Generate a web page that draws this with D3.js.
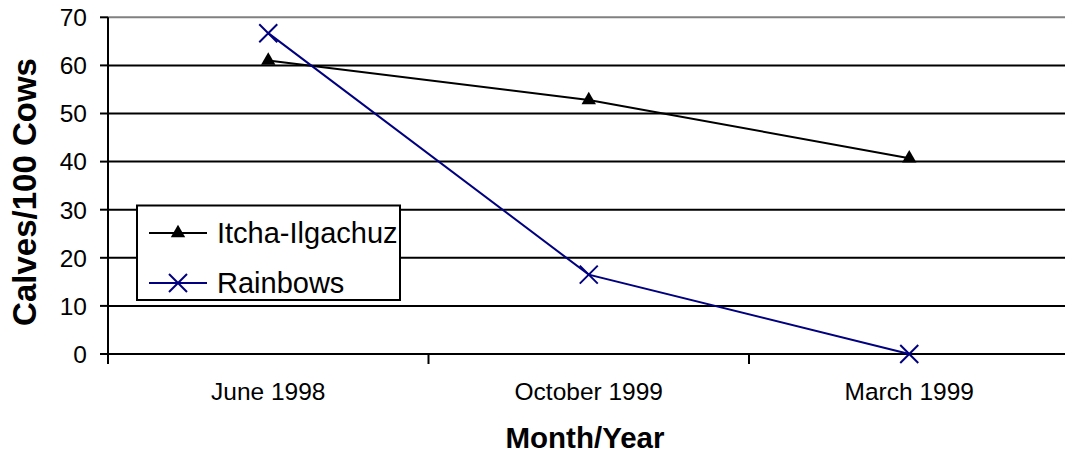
<!DOCTYPE html>
<meta charset="utf-8">
<style>
body { margin: 0; background: #fff; }
svg { font-family: Arial, "Liberation Sans", sans-serif; display: block; }
.grid line { stroke: #000; stroke-width: 2; }
.tick-label { font-size: 24.5px; fill: #000; }
.title { font-weight: bold; fill: #000; }
</style>
<body>
<div id="chart"></div>
<script src="https://cdn.jsdelivr.net/npm/d3@7"></script>
<script>

var months = ["June 1998", "October 1999", "March 1999"];
var itcha = [61, 52.8, 40.7];
var rainbows = [66.7, 16.5, 0];
var yTicks = [0, 10, 20, 30, 40, 50, 60, 70];

var width = 1065,
    height = 461;

var x = d3.scaleBand()
    .domain(months)
    .range([108, 1069.5]);

var y = d3.scaleLinear()
    .domain([0, 70])
    .range([354, 17.3]);

var svg = d3.select("#chart").append("svg")
    .attr("width", width)
    .attr("height", height);

// gridlines
svg.append("g").attr("class", "grid")
  .selectAll("line")
    .data(yTicks.filter(function(d) { return d > 0; }))
  .enter().append("line")
    .attr("x1", 108)
    .attr("x2", width)
    .attr("y1", function(d) { return y(d); })
    .attr("y2", function(d) { return y(d); })
    .style("stroke", function(d) { return d === 70 ? "#808080" : "#000"; });

// y axis
svg.append("line")
    .attr("x1", 108).attr("x2", 108)
    .attr("y1", y(70)).attr("y2", y(0) + 10)
    .style("stroke", "#000").style("stroke-width", 2);

svg.append("g").selectAll("line")
    .data(yTicks)
  .enter().append("line")
    .attr("x1", 100).attr("x2", 108)
    .attr("y1", function(d) { return y(d); })
    .attr("y2", function(d) { return y(d); })
    .style("stroke", "#000").style("stroke-width", 2);

svg.append("g").selectAll("text")
    .data(yTicks)
  .enter().append("text")
    .attr("class", "tick-label")
    .attr("x", 87)
    .attr("y", function(d) { return y(d); })
    .attr("dy", "0.36em")
    .attr("text-anchor", "end")
    .text(function(d) { return d; });

// x axis
svg.append("line")
    .attr("x1", 108).attr("x2", width)
    .attr("y1", y(0)).attr("y2", y(0))
    .style("stroke", "#000").style("stroke-width", 2);

var bounds = months.map(function(m) { return x(m); }).concat([x.range()[1]]);
svg.append("g").selectAll("line")
    .data(bounds)
  .enter().append("line")
    .attr("x1", function(d) { return d; })
    .attr("x2", function(d) { return d; })
    .attr("y1", y(0)).attr("y2", y(0) + 10)
    .style("stroke", "#000").style("stroke-width", 2);

svg.append("g").selectAll("text")
    .data(months)
  .enter().append("text")
    .attr("class", "tick-label")
    .attr("x", function(d) { return x(d) + x.bandwidth() / 2; })
    .attr("y", 400)
    .attr("text-anchor", "middle")
    .text(function(d) { return d; });

// axis titles
svg.append("text")
    .attr("class", "title")
    .attr("x", 585)
    .attr("y", 448)
    .attr("text-anchor", "middle")
    .style("font-size", "29.5px")
    .text("Month/Year");

svg.append("text")
    .attr("class", "title")
    .attr("transform", "translate(36,192) rotate(-90)")
    .attr("text-anchor", "middle")
    .style("font-size", "33px")
    .text("Calves/100 Cows");

// series
var cx = function(i) { return x(months[i]) + x.bandwidth() / 2; };
var line = d3.line()
    .x(function(d, i) { return cx(i); })
    .y(function(d) { return y(d); });

svg.append("path")
    .datum(itcha)
    .attr("d", line)
    .style("fill", "none")
    .style("stroke", "#000")
    .style("stroke-width", 2);

svg.append("path")
    .datum(rainbows)
    .attr("d", line)
    .style("fill", "none")
    .style("stroke", "#000080")
    .style("stroke-width", 2);

var tri = d3.symbol().type(d3.symbolTriangle).size(90);

function cross(g, px, py) {
  var s = 9;
  g.append("path")
    .attr("d", "M" + (px - s) + "," + (py - s) + "L" + (px + s) + "," + (py + s) +
               "M" + (px - s) + "," + (py + s) + "L" + (px + s) + "," + (py - s))
    .style("stroke", "#000080")
    .style("stroke-width", 2)
    .style("fill", "none");
}

svg.append("g").selectAll("path")
    .data(itcha)
  .enter().append("path")
    .attr("d", tri)
    .attr("transform", function(d, i) { return "translate(" + cx(i) + "," + y(d) + ")"; })
    .style("fill", "#000");

var xg = svg.append("g");
rainbows.forEach(function(d, i) { cross(xg, cx(i), y(d)); });

// legend
var legend = svg.append("g");
legend.append("rect")
    .attr("x", 137)
    .attr("y", 205.5)
    .attr("width", 263)
    .attr("height", 94.5)
    .style("fill", "#fff")
    .style("stroke", "#000")
    .style("stroke-width", 2);

var legendItems = [
  {name: "Itcha-Ilgachuz", color: "#000", y: 233},
  {name: "Rainbows", color: "#000080", y: 283}
];

legendItems.forEach(function(item, k) {
  legend.append("line")
      .attr("x1", 149).attr("x2", 207)
      .attr("y1", item.y).attr("y2", item.y)
      .style("stroke", item.color)
      .style("stroke-width", 2);
  if (k === 0) {
    legend.append("path")
        .attr("d", tri)
        .attr("transform", "translate(178," + item.y + ")")
        .style("fill", "#000");
  } else {
    cross(legend, 178, item.y);
  }
  legend.append("text")
      .attr("x", 217)
      .attr("y", item.y)
      .attr("dy", "0.36em")
      .style("font-size", "29px")
      .text(item.name);
});

</script>
</body>
</html>
